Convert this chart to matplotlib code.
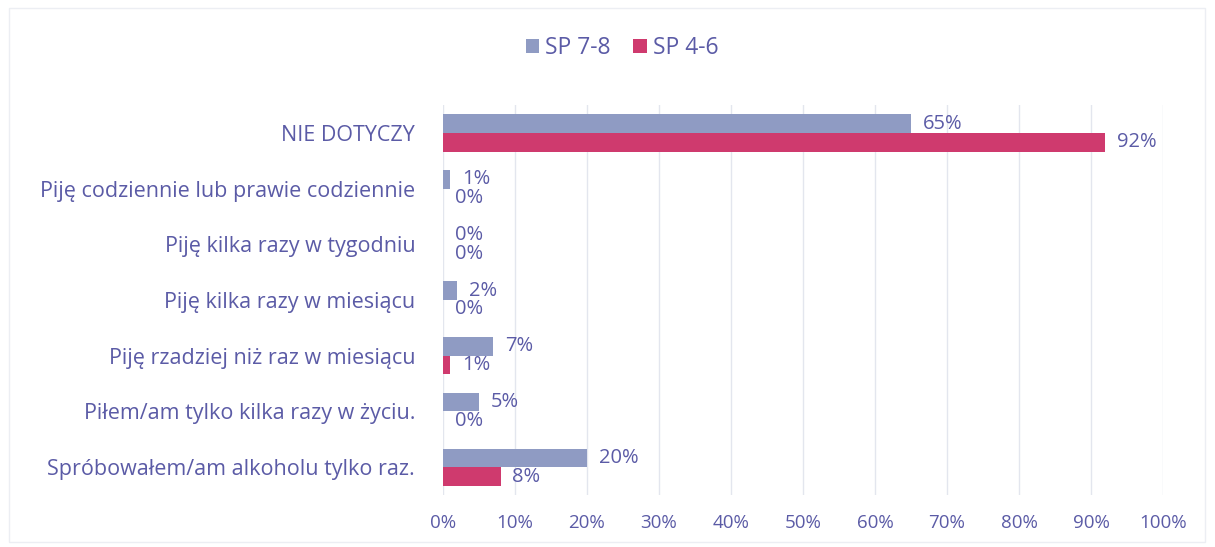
import numpy as np
import matplotlib
matplotlib.use("Agg")
import matplotlib.pyplot as plt
from matplotlib.patches import Rectangle

categories = ["NIE DOTYCZY",
              "Piję codziennie lub prawie codziennie",
              "Piję kilka razy w tygodniu",
              "Piję kilka razy w miesiącu",
              "Piję rzadziej niż raz w miesiącu",
              "Piłem/am tylko kilka razy w życiu.",
              "Spróbowałem/am alkoholu tylko raz."]
sp78 = [65, 1, 0, 2, 7, 5, 20]
sp46 = [92, 0, 0, 0, 1, 0, 8]
series_names = ["SP 7-8", "SP 4-6"]
xticks = list(range(0, 101, 10))

TXT = "#5b5ba6"
C78 = "#8f9bc3"
C46 = "#cf3a6e"
plt.rcParams["font.family"] = ["Open Sans", "DejaVu Sans"]

fig = plt.figure(figsize=(12.15, 5.47), dpi=100)
fig.patches.append(Rectangle((0.007, 0.01), 0.985, 0.975, transform=fig.transFigure,
                             fill=False, edgecolor="#eceef3", lw=1))
ax = fig.add_axes([0.3646, 0.095, 0.5926, 0.713])

y = np.arange(len(categories))
h = 0.335
b1 = ax.barh(y - h / 2, sp78, height=h, color=C78, label=series_names[0], zorder=3)
b2 = ax.barh(y + h / 2, sp46, height=h, color=C46, label=series_names[1], zorder=3)
for bars, vals in ((b1, sp78), (b2, sp46)):
    for r, v in zip(bars, vals):
        ax.text(r.get_width() + 1.6, r.get_y() + r.get_height() / 2, f"{v}%",
                va="center", ha="left", color=TXT, fontsize=14.5)

ax.set_xlim(0, 100)
ax.set_ylim(len(categories) - 0.5, -0.5)
ax.set_xticks(xticks)
ax.set_xticklabels([f"{t}%" for t in xticks])
ax.set_yticks(y)
ax.set_yticklabels(categories)
ax.tick_params(axis="both", length=0, colors=TXT, labelsize=13.5)
ax.tick_params(axis="y", pad=20, labelsize=15.5)
ax.tick_params(axis="x", pad=14)
ax.grid(axis="x", color="#e3e6ee", lw=1, zorder=0)
for s in ax.spines.values():
    s.set_visible(False)

fig.legend(handles=[b1, b2], loc="center", bbox_to_anchor=(0.512, 0.912), ncol=2,
           frameon=False, fontsize=16.5, labelcolor=TXT, handlelength=0.6, handleheight=0.6,
           handletextpad=0.25, columnspacing=1.0)

fig.savefig("out.png", dpi=100)
